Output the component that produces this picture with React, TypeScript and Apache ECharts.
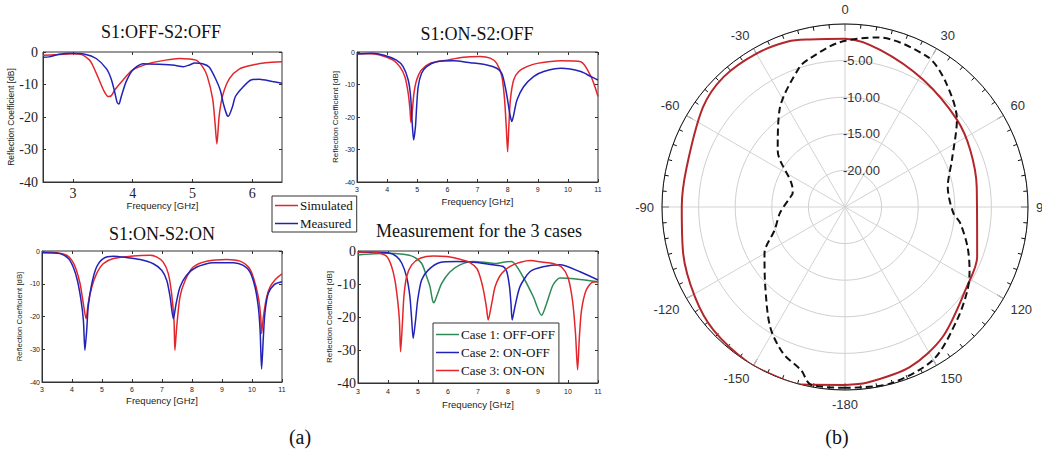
import React, { useEffect, useRef } from "react";
import * as echarts from "echarts";

// ---------- data: [frequency GHz, reflection coefficient dB] ----------
const offOffSim: number[][] = [
  [2.5, -1.0], [2.75, -0.8], [3.0, -0.5], [3.15, -0.8], [3.28, -2.5], [3.33, -4], [3.44, -8.6], [3.52, -12],
  [3.59, -13.7], [3.64, -13.5], [3.7, -11.7], [3.84, -8.6], [4.0, -5.5], [4.28, -3.5], [4.55, -2.5], [4.78, -2.0],
  [5.06, -2.5], [5.17, -4.5], [5.25, -7.5], [5.34, -14.5], [5.38, -22], [5.41, -28.3], [5.45, -19.4], [5.51, -13.2],
  [5.62, -8.2], [5.79, -5.2], [6.01, -4.0], [6.23, -3.3], [6.5, -3.0],
];
const offOffMeas: number[][] = [
  [2.5, -1.6], [2.6, -1.5], [2.75, -0.8], [2.95, -0.4], [3.2, -0.7], [3.39, -2.0], [3.56, -5.1], [3.64, -8.2],
  [3.7, -12.3], [3.74, -15.5], [3.77, -16.0], [3.81, -13.7], [3.89, -9.2], [4.0, -5.6], [4.17, -3.6], [4.44, -3.8],
  [4.7, -4.1], [4.85, -4.5], [4.95, -4.0], [5.04, -3.4], [5.17, -3.6], [5.28, -4.6], [5.39, -8.3], [5.47, -11.9],
  [5.52, -16], [5.58, -19.5], [5.6, -19.8], [5.67, -16.9], [5.72, -13.7], [5.84, -10.9], [5.98, -8.6], [6.12, -8.4],
  [6.34, -9.1], [6.5, -9.6],
];
const onOffSim: number[][] = [
  [3.0, -0.5], [3.4, -0.5], [3.76, -0.9], [4.2, -2.5], [4.42, -4.5], [4.59, -7.6], [4.7, -12.7], [4.76, -17.8],
  [4.79, -21.7], [4.84, -17.8], [4.89, -12.7], [4.98, -8.6], [5.14, -5.5], [5.42, -3.5], [5.98, -2.5], [6.53, -1.6],
  [7.09, -1.4], [7.42, -1.9], [7.64, -3.5], [7.81, -7.6], [7.9, -14.8], [7.96, -24], [8.0, -30.7], [8.04, -23],
  [8.09, -14.8], [8.2, -8.6], [8.37, -6.0], [8.64, -4.5], [8.98, -3.5], [9.77, -2.7], [10.43, -3.0], [10.77, -7.6],
  [11.0, -13.7],
];
const onOffMeas: number[][] = [
  [3.0, -0.6], [3.5, -0.4], [3.9, -1.0], [4.31, -2.5], [4.53, -4.5], [4.7, -8.6], [4.78, -13.7], [4.84, -23],
  [4.88, -27.1], [4.94, -23], [4.98, -16.8], [5.03, -10.7], [5.14, -6.6], [5.31, -4.5], [5.64, -3.0], [6.2, -2.7],
  [6.76, -3.3], [7.31, -4.0], [7.64, -5.0], [7.81, -6.6], [7.92, -10.7], [8.0, -14.8], [8.07, -18.9], [8.14, -21.4],
  [8.2, -19.4], [8.31, -14.8], [8.53, -10.7], [8.87, -7.5], [9.2, -6.0], [9.77, -5.0], [10.43, -6.0], [10.77, -7.6],
  [11.0, -8.6],
];
const onOnSim: number[][] = [
  [3.0, -0.3], [3.49, -0.5], [3.82, -1.3], [3.99, -2.8], [4.13, -5.4], [4.27, -10], [4.36, -15], [4.47, -20.7],
  [4.54, -16], [4.66, -11], [4.82, -6.9], [5.04, -3.9], [5.38, -2.3], [6.04, -1.5], [6.6, -1.3], [6.82, -1.8],
  [7.04, -3.4], [7.21, -6.9], [7.32, -13], [7.4, -21.2], [7.43, -30.3], [7.49, -23.2], [7.6, -14], [7.77, -9],
  [8.04, -4.9], [8.49, -3.1], [9.16, -2.6], [9.6, -3.1], [9.88, -4.9], [10.04, -7.9], [10.21, -14], [10.29, -20],
  [10.32, -25.2], [10.38, -20], [10.49, -14], [10.6, -11], [10.8, -8.5], [11.0, -7.0],
];
const onOnMeas: number[][] = [
  [3.0, -0.5], [3.6, -0.8], [3.88, -2.3], [4.04, -4.9], [4.18, -9], [4.3, -15], [4.38, -21.2], [4.43, -30.3],
  [4.49, -24.2], [4.54, -17], [4.66, -10], [4.82, -4.9], [5.04, -2.3], [5.38, -1.6], [5.82, -2.0], [6.27, -2.6],
  [6.71, -3.9], [6.99, -5.9], [7.16, -9], [7.27, -14], [7.38, -20.7], [7.47, -16.1], [7.6, -11], [7.82, -7.4],
  [8.16, -4.9], [8.71, -3.6], [9.38, -3.6], [9.71, -4.4], [9.93, -6.4], [10.1, -11], [10.21, -17.1], [10.27, -24.2],
  [10.32, -36], [10.38, -26], [10.43, -19], [10.54, -13], [10.75, -10.2], [11.0, -9.4],
];
const case1: number[][] = [
  [3.0, -1.2], [3.4, -0.9], [3.96, -0.7], [4.51, -1.0], [4.84, -1.7], [5.12, -3.7], [5.29, -7.8], [5.4, -10.8],
  [5.48, -14.8], [5.53, -15.7], [5.62, -13.8], [5.79, -9.8], [6.07, -6.3], [6.4, -4.2], [6.84, -3.2], [7.29, -3.5],
  [7.62, -3.8], [7.84, -3.4], [8.12, -3.2], [8.5, -7.8], [8.84, -13.8], [9.12, -19.5], [9.29, -15.8], [9.5, -10.3],
  [9.73, -8.2], [10.4, -8.6], [11.0, -9.3],
];
const case2: number[][] = [
  [3.0, -0.4], [3.62, -0.4], [4.07, -0.7], [4.29, -1.7], [4.46, -3.7], [4.62, -7.8], [4.73, -13.8], [4.79, -20.9],
  [4.84, -26.5], [4.92, -20.9], [4.99, -14.8], [5.12, -8.8], [5.34, -5.8], [5.73, -3.5], [6.29, -3.2], [6.96, -3.5],
  [7.51, -4.2], [7.84, -4.7], [7.96, -6.3], [8.05, -10.8], [8.1, -16], [8.14, -20.9], [8.23, -16.9], [8.4, -10.8],
  [8.73, -6.3], [9.17, -4.8], [9.73, -4.2], [10.4, -6.3], [11.0, -8.8],
];
const case3: number[][] = [
  [3.0, -0.4], [3.4, -0.2], [3.73, -0.7], [3.96, -1.7], [4.12, -4.7], [4.23, -8.8], [4.32, -14.8], [4.38, -20.9],
  [4.42, -30.5], [4.48, -21.9], [4.53, -13.8], [4.62, -7.8], [4.79, -4.2], [5.07, -2.2], [5.51, -1.5], [5.96, -1.7],
  [6.4, -2.5], [6.73, -3.5], [6.96, -5.3], [7.07, -7.8], [7.18, -11.8], [7.28, -17], [7.34, -20.9], [7.46, -15.8],
  [7.57, -10.8], [7.79, -6.8], [8.17, -4.2], [8.73, -2.9], [9.17, -3.4], [9.5, -3.8], [9.8, -5], [10.0, -8],
  [10.15, -15], [10.25, -25], [10.32, -36], [10.38, -26], [10.45, -18], [10.6, -12], [10.8, -9.5], [11.0, -9.3],
];
// polar pattern: [angle deg, gain dB]
const patternSolid: number[][] = [
  [-180, -0.7], [-166, 0], [-159, 0], [-148, 0], [-133, -0.4], [-121, -1.1], [-106, -2.0], [-90, -2.7],
  [-76, -2.7], [-55, -1.3], [-43, -0.7], [-30, -0.8], [-19, -1.1], [-12, -1.6], [0, -2.0], [12.6, -3.0],
  [31.6, -4.6], [52, -5.6], [65.5, -6.2], [81.4, -6.8], [110.7, -5.7], [123.3, -5.1], [143, -2.8], [158, -1.4],
  [173, -0.8], [180, -0.7],
];
const patternDashed: number[][] = [
  [-180, -0.3], [-169, -0.3], [-165, -1.9], [-157, -3.3], [-148, -5.7], [-135, -9.6], [-120, -12.3], [-108, -14.9],
  [-95, -16.1], [-80, -17.4], [-75, -17.6], [-69, -17.3], [-50, -13.0], [-34, -9.0], [-18, -4.9], [-13, -4.1],
  [-2, -2.5], [11, -1.4], [29, -1.6], [39, -3.1], [52, -5.6], [66, -9.0], [79, -10.7], [93, -10.2], [98, -9.1],
  [108, -7.4], [117, -5.9], [124, -4.8], [135, -3.3], [150, -0.9], [166, -0.1], [180, -0.3],
];
const freqTicksA = [3, 4, 5, 6];
const freqTicksB = [3, 4, 5, 6, 7, 8, 9, 10, 11];
const titles = ["S1:OFF-S2:OFF", "S1:ON-S2:OFF", "S1:ON-S2:ON", "Measurement for the 3 cases"];
const legendA = ["Simulated", "Measured"];
const legendB = ["Case 1: OFF-OFF", "Case 2: ON-OFF", "Case 3: ON-ON"];

const RED = "#e3262b";
const BLUE = "#2222b8";
const GREEN = "#2f8a57";
const SERIF = "'Liberation Serif', 'Times New Roman', serif";
const SANS = "'Liberation Sans', Arial, sans-serif";

type GridSpec = {
  left: number; top: number; width: number; height: number;
  xmin: number; xmax: number; ticks: number[];
  xLabel: any; yLabel: any; xGap: number; yGap: number; yNameSize: number;
};

const grids: GridSpec[] = [
  { left: 43, top: 52, width: 239, height: 130, xmin: 2.5, xmax: 6.5, ticks: freqTicksA,
    xLabel: { fontFamily: SERIF, fontSize: 14, margin: 4 }, yLabel: { fontFamily: SERIF, fontSize: 14, margin: 5 },
    xGap: 17, yGap: 26, yNameSize: 8.5 },
  { left: 357, top: 52, width: 241, height: 130, xmin: 3, xmax: 11, ticks: freqTicksB,
    xLabel: { fontFamily: SANS, fontSize: 7, margin: 4 }, yLabel: { fontFamily: SANS, fontSize: 7, margin: 2 },
    xGap: 14, yGap: 18, yNameSize: 8 },
  { left: 42, top: 251, width: 240, height: 131, xmin: 3, xmax: 11, ticks: freqTicksB,
    xLabel: { fontFamily: SANS, fontSize: 7, margin: 4 }, yLabel: { fontFamily: SANS, fontSize: 7, margin: 2 },
    xGap: 13, yGap: 19, yNameSize: 7.8 },
  { left: 358, top: 251, width: 240, height: 132, xmin: 3, xmax: 11, ticks: freqTicksB,
    xLabel: { fontFamily: SANS, fontSize: 7, margin: 5 }, yLabel: { fontFamily: SERIF, fontSize: 14, margin: 2 },
    xGap: 16, yGap: 25, yNameSize: 8 },
];

const AX = "#333";

function buildOption() {
  const grid = grids.map((g) => ({
    left: g.left, top: g.top, width: g.width, height: g.height,
    show: true, borderColor: AX, borderWidth: 1, backgroundColor: "#fff",
  }));
  const xAxis: any[] = [];
  const yAxis: any[] = [];
  grids.forEach((g, i) => {
    xAxis.push({
      gridIndex: i, type: "value", min: g.xmin, max: g.xmax, position: "bottom",
      axisLine: { show: true, onZero: false, lineStyle: { color: AX } },
      axisTick: { show: true, inside: true, length: 3, customValues: g.ticks, lineStyle: { color: AX } },
      axisLabel: { ...g.xLabel, color: "#222", customValues: g.ticks },
      splitLine: { show: false },
      name: "Frequency [GHz]", nameLocation: "middle", nameGap: g.xGap,
      nameTextStyle: { fontFamily: SANS, fontSize: 9.5, color: "#222" },
    });
    xAxis.push({
      gridIndex: i, type: "value", min: g.xmin, max: g.xmax, position: "top",
      axisLine: { show: false },
      axisTick: { show: true, inside: true, length: 3, customValues: g.ticks, lineStyle: { color: AX } },
      axisLabel: { show: false }, splitLine: { show: false },
    });
    yAxis.push({
      gridIndex: i, type: "value", min: -40, max: 0, interval: 10, position: "left",
      axisLine: { show: true, onZero: false, lineStyle: { color: AX } },
      axisTick: { show: true, inside: true, length: 3, lineStyle: { color: AX } },
      axisLabel: { ...g.yLabel, color: "#222" },
      splitLine: { show: false },
      name: "Reflection Coefficient [dB]", nameLocation: "middle", nameGap: g.yGap,
      nameTextStyle: { fontFamily: SANS, fontSize: g.yNameSize, color: "#222" },
    });
    yAxis.push({
      gridIndex: i, type: "value", min: -40, max: 0, interval: 10, position: "right",
      axisLine: { show: false },
      axisTick: { show: true, inside: true, length: 3, lineStyle: { color: AX } },
      axisLabel: { show: false }, splitLine: { show: false },
    });
  });

  const line = (name: string, data: number[][], gi: number, color: string) => ({
    name, type: "line", xAxisIndex: gi * 2, yAxisIndex: gi * 2, data,
    symbol: "none", smooth: 0.25, lineStyle: { color, width: 1.5 }, itemStyle: { color },
  });

  const toPolar = (d: number[][]) => d.map(([a, v]) => [Math.min(v, 0), ((a % 360) + 360) % 360]);

  const series: any[] = [
    line(legendA[0], offOffSim, 0, RED),
    line(legendA[1], offOffMeas, 0, BLUE),
    line(legendA[0], onOffSim, 1, RED),
    line(legendA[1], onOffMeas, 1, BLUE),
    line(legendA[0], onOnSim, 2, RED),
    line(legendA[1], onOnMeas, 2, BLUE),
    line(legendB[0], case1, 3, GREEN),
    line(legendB[1], case2, 3, BLUE),
    line(legendB[2], case3, 3, RED),
    {
      name: "solid", type: "line", coordinateSystem: "polar", polarIndex: 0, data: toPolar(patternSolid),
      symbol: "none", smooth: 0.3, lineStyle: { color: "#b3262b", width: 2 }, z: 5,
    },
    {
      name: "dashed", type: "line", coordinateSystem: "polar", polarIndex: 0, data: toPolar(patternDashed),
      symbol: "none", smooth: 0.3, lineStyle: { color: "#111", width: 2, type: [7, 4] }, z: 5,
    },
  ];

  const titleStyle = { fontFamily: SERIF, fontSize: 18, fontWeight: "normal", color: "#111" };
  const title = [
    { text: titles[0], left: 161, top: 23, textAlign: "center", padding: 0, textStyle: titleStyle },
    { text: titles[1], left: 477, top: 25, textAlign: "center", padding: 0, textStyle: titleStyle },
    { text: titles[2], left: 162, top: 225, textAlign: "center", padding: 0, textStyle: titleStyle },
    { text: titles[3], left: 479, top: 222, textAlign: "center", padding: 0, textStyle: titleStyle },
  ];

  const legendCommon = {
    orient: "vertical", selectedMode: false, borderColor: AX, borderWidth: 1, backgroundColor: "#fff",
    icon: "rect", itemWidth: 23, itemHeight: 1.5, itemGap: 4,
    textStyle: { fontFamily: SERIF, fontSize: 13, color: "#111", padding: [0, 0, 0, -3] },
  };
  const legend = [
    { ...legendCommon, data: legendA, left: 272, top: 196, padding: [3, 4, 2, 3], itemGap: 5 },
    { ...legendCommon, data: legendB, left: 433, top: 323, padding: [5, 4, 6, 3], itemGap: 5 },
  ];

  const fmtAngle = (v: number) => (v === 180 ? "-180" : v > 180 ? String(v - 360) : String(v));

  return {
    animation: false,
    backgroundColor: "#fff",
    title, grid, xAxis, yAxis, legend, series,
    polar: { center: [845, 207], radius: 183 },
    angleAxis: {
      type: "value", min: 0, max: 360, interval: 30, startAngle: 90, clockwise: true,
      axisLine: { show: true, lineStyle: { color: "#111", width: 1 } },
      axisTick: { show: true, inside: true, length: 7, lineStyle: { color: "#111" } },
      minorTick: { show: true, splitNumber: 6, length: 4, lineStyle: { color: "#111" } },
      splitLine: { show: true, lineStyle: { color: "#d2d2d2" } },
      axisLabel: { formatter: fmtAngle, color: "#333", fontFamily: SANS, fontSize: 13, margin: 8 },
    },
    radiusAxis: {
      type: "value", min: -25, max: 0, interval: 5,
      axisLine: { show: false }, axisTick: { show: false },
      splitLine: { show: true, lineStyle: { color: "#cfcfcf" } },
      axisLabel: {
        formatter: (v: number) => (v < 0 && v > -25 ? v.toFixed(2) : ""),
        color: "#333", fontFamily: SANS, fontSize: 13, margin: 2, align: "left",
        verticalAlign: "middle", padding: [0, 0, 6, 0],
      },
    },
    graphic: [
      { type: "text", x: 300, y: 437, style: { text: "(a)", font: `20px ${SERIF}`, fill: "#111", align: "center", verticalAlign: "middle" } },
      { type: "text", x: 837, y: 437, style: { text: "(b)", font: `20px ${SERIF}`, fill: "#111", align: "center", verticalAlign: "middle" } },
    ],
  };
}

export default function App() {
  const ref = useRef<HTMLDivElement>(null);
  useEffect(() => {
    if (!ref.current) return;
    const chart = echarts.init(ref.current, undefined, { renderer: "svg" });
    chart.setOption(buildOption() as any);
    return () => chart.dispose();
  }, []);
  return (
    <div
      ref={ref}
      style={{ position: "absolute", left: 0, top: 0, width: 1042, height: 460, background: "#fff" }}
    />
  );
}
